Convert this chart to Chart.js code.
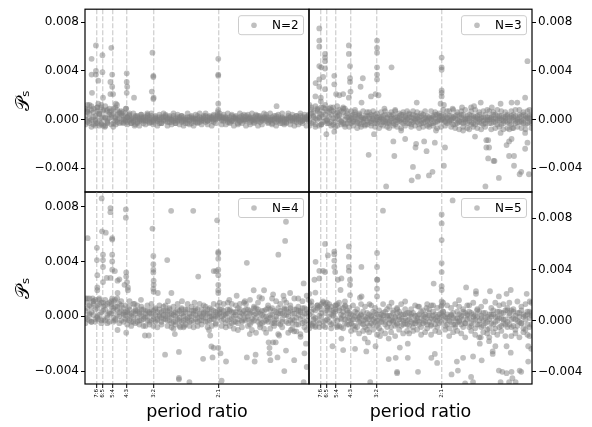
<!DOCTYPE html>
<html>
<head>
<meta charset="utf-8">
<script src="https://cdn.jsdelivr.net/npm/chart.js@4.4.0/dist/chart.umd.min.js"></script>
<style>
  html, body { margin: 0; padding: 0; background: #fff; }
  #wrap { position: relative; width: 592px; height: 427px; overflow: hidden; }
  canvas { position: absolute; left: 0; top: 0; }
</style>
</head>
<body>
<div id="wrap">
  <canvas id="n2" width="592" height="427"></canvas>
  <canvas id="n3" width="592" height="427"></canvas>
  <canvas id="n4" width="592" height="427"></canvas>
  <canvas id="n5" width="592" height="427"></canvas>
</div>
<script>
// resonances marked with dashed lines
const resonanceRatios = [7 / 6, 6 / 5, 5 / 4, 4 / 3, 3 / 2, 2];
const resonanceLabels = ['7:6', '6:5', '5:4', '4:3', '3:2', '2:1'];
const yTicks = [-0.004, 0, 0.004, 0.008];
const xRange = [1.108, 2.99];

// all y values below are in units of 1e-4
const Y_UNIT = 1e-4;

// period ratios along the dense band
const bandRatio = [
  1.110, 1.120, 1.130, 1.140, 1.150, 1.160, 1.170, 1.180, 1.191, 1.201,
  1.212, 1.223, 1.234, 1.245, 1.256, 1.267, 1.278, 1.290, 1.301, 1.313,
  1.325, 1.336, 1.348, 1.360, 1.373, 1.385, 1.397, 1.410, 1.422, 1.435,
  1.448, 1.461, 1.474, 1.487, 1.500, 1.514, 1.527, 1.541, 1.555, 1.569,
  1.583, 1.597, 1.611, 1.626, 1.640, 1.655, 1.670, 1.685, 1.700, 1.715,
  1.730, 1.746, 1.761, 1.777, 1.793, 1.809, 1.825, 1.842, 1.858, 1.875,
  1.891, 1.908, 1.925, 1.943, 1.960, 1.978, 1.995, 2.013, 2.031, 2.049,
  2.068, 2.086, 2.105, 2.124, 2.143, 2.162, 2.182, 2.201, 2.221, 2.241,
  2.261, 2.281, 2.302, 2.322, 2.343, 2.364, 2.385, 2.407, 2.428, 2.450,
  2.472, 2.494, 2.517, 2.539, 2.562, 2.585, 2.608, 2.632, 2.655, 2.679,
  2.703, 2.727, 2.752, 2.777, 2.802, 2.827, 2.852, 2.878, 2.904, 2.930,
  2.956, 2.983
];

// ---------- N=2 ----------
const coreN2a = [
  9, -2, 5, 11, -4, 3, 7, -1, 12, 2,
  -5, 8, 1, 4, -3, 10, 0, 6, -2, 3,
  1, -2, 3, 0, -1, 2, -3, 1, 2, -1,
  0, 3, -2, 1, -1, 2, 0, -3, 1, 2,
  -1, 0, 2, -2, 3, 1, -1, 0, -2, 2,
  1, -3, 0, 2, -1, 1, 3, -2, 0, 1,
  -2, 2, 0, -1, 3, 1, 4, 2, -1, 1,
  2, -2, 0, 3, -1, 1, -3, 2, 0, -1,
  3, 1, -2, 0, 2, -1, 3, -2, 1, 0,
  -1, 2, 0, -3, 1, 3, -1, 0, 2, -2,
  1, 3, -1, 0, 2, -2, 1, 3, -1, 0,
  2, -1
];
const coreN2b = [
  3, 7, -1, 0, 6, -5, 10, 4, -3, 8,
  2, -1, 6, -4, 9, 1, -2, 5, 3, -3,
  -1, 2, 0, -3, 1, 3, -2, 0, -1, 2,
  2, -1, 0, 3, -2, 1, -1, 2, -3, 0,
  3, -2, 1, 0, -1, -3, 2, 1, 3, -1,
  0, 2, -1, -3, 1, 0, -2, 2, 1, -1,
  3, -1, 2, 1, -2, 0, 1, 3, 2, -1,
  0, 1, -2, -1, 2, 0, 1, -1, 3, 2,
  -1, 0, 2, 1, -2, 3, 0, 1, -1, 2,
  2, -2, 1, 0, -1, -2, 2, 1, -3, 1,
  -2, 0, 2, 1, -1, 3, 0, -2, 2, 1,
  0, 3
];
const coreN2c = [
  0, 6, -3, 8, 2, -1, 10, 5, -4, 7,
  1, -3, 9, 2, 5, -1, 4, 1, 7, -2,
  0, 2, -1, 1, -2, 0, 2, -1, 0, 1,
  -1, 1, 2, -2, 0, 1, -1, 0, 2, -1,
  2, 1, -2, 0, 1, -1, 0, 2, -1, 0,
  -1, 0, 2, 1, 0, -2, 1, 0, -1, 2,
  0, -1, 1, 2, 0, 2, 3, 1, 0, 2,
  1, 0, 2, -1, 1, 2, 0, -2, 1, 0,
  0, 2, 1, -1, 0, 1, -1, 2, 0, 1,
  1, 0, -1, 2, 0, 1, 0, -1, 1, 0,
  0, 1, 2, -1, 1, 0, 2, 0, -1, 2,
  1, 0
];
const fringeN2 = [
  -4, 12, 1, -6, 9, 0, -3, 5, 1, -5,
  11, -2, 4, 7, -6, 2, 8, -3, 5, 0,
  5, -4, 4, -3, 5, -4, 3, -5, 4, -3,
  -4, 4, -3, 5, -4, 3, -5, 4, -3, 5,
  4, -5, 3, -4, 5, -3, 4, -4, 3, -5,
  -3, 5, -4, 3, -5, 4, -3, 5, -4, 3,
  5, -4, 3, -5, 4, -3, 6, 5, -4, 4,
  -4, 5, -3, 4, -5, 3, -4, 5, -3, 4,
  -5, 4, -4, 5, -3, 4, -5, 3, -4, 5,
  4, -3, 5, -4, 3, -5, 4, -3, 5, -4,
  -3, 5, -4, 4, -5, 3, -4, 5, -3, 4,
  -5, 4
];
const outN2 = [
  [1.163, 61], [1.141, 50], [1.197, 53], [1.245, 59], [1.494, 55], [1.141, 37], [1.163, 40],
  [1.163, 37], [1.175, 32], [1.197, 39], [1.25, 37], [1.24, 31], [1.25, 27], [1.333, 38],
  [1.333, 31], [1.336, 27], [1.333, 22], [1.5, 35], [1.5, 36], [1.49, 23], [1.5, 17],
  [1.502, 18], [1.143, 22], [1.2, 18], [1.24, 21], [1.255, 21], [1.377, 18], [1.277, 12],
  [1.27, 13], [1.33, 9], [1.328, 9], [1.13, 12], [1.175, 13], [1.12, 8], [2.0, 50],
  [2.0, 37], [2.0, 36], [2.0, 13], [2.0, 8], [2.59, 11], [1.27, -4], [1.21, -6],
  [1.18, -5], [1.38, -5], [1.16, -3], [1.19, 10], [1.22, 7], [1.31, 6], [1.35, 5],
  [1.42, 4], [1.46, 5]
];

// ---------- N=3 ----------
const coreN3a = [
  12, -3, 6, 1, 9, -5, 4, 10, -1, 7,
  2, 8, -4, 5, 11, 0, -2, 6, 3, -3,
  2, -3, 4, 0, -2, 3, -4, 1, 3, -1,
  -2, 4, 1, -3, 2, 0, -4, 3, -1, 2,
  4, -1, -3, 2, 0, 3, -2, 4, -1, 1,
  -3, 2, 4, -1, 1, -4, 3, 0, -2, 3,
  1, -3, 2, 4, -2, 0, 3, 4, -1, 2,
  -2, 3, -4, 1, 4, -1, 2, -3, 0, 3,
  4, -2, 1, -4, 3, 0, -3, 2, 4, -1,
  -3, 1, 4, -2, 0, 3, -4, 2, -1, 4,
  2, -4, 0, 3, -2, 4, -1, -3, 3, 1,
  -2, 4
];
const coreN3b = [
  3, 8, -2, 11, 0, 5, -4, 2, 9, -1,
  6, -2, 10, 1, -5, 4, 7, -3, 0, 5,
  -1, 3, -2, 4, 1, -3, 2, 0, -4, 3,
  3, -1, 0, 4, -3, 2, 1, -2, 4, -3,
  -2, 3, 1, -4, 2, -1, 4, 0, 3, -3,
  2, -4, 1, 3, -2, 0, -3, 4, 2, -1,
  -4, 1, 3, -2, 4, 2, -1, 0, 3, -3,
  3, -1, 2, -4, 0, 3, -2, 4, 1, -3,
  -1, 3, -3, 2, -2, 4, 1, -4, 0, 2,
  2, -3, 0, 4, -4, 1, 3, -1, 2, -2,
  -1, 3, 4, -3, 1, -2, 3, 0, -4, 2,
  3, -3
];
const coreN3c = [
  -1, 5, 2, -4, 7, 1, 10, -2, 4, 0,
  -3, 4, 1, -2, 6, 3, -1, 9, -4, 2,
  0, 1, -1, 2, -3, 4, 0, -2, 1, -4,
  1, -3, 3, -1, 0, -2, 2, 0, -2, 1,
  -3, 1, 4, -1, -2, 1, 0, -3, 2, 0,
  4, -1, -2, 0, 3, 2, -1, -3, 1, 0,
  2, 0, -3, 1, -1, 3, 0, 1, -2, 1,
  -1, 0, 1, 3, -3, -2, 4, 0, -2, 1,
  1, -4, 3, 0, 1, -2, 2, -1, -3, 0,
  0, 2, -2, 1, 3, -1, 0, -3, 1, 3,
  -3, 1, 2, -1, 0, 2, -2, 4, 1, -3,
  1, -1
];
const fringeN3 = [
  -5, 10, 3, -6, 8, 2, -4, 6, 12, -3,
  9, -5, 7, -6, 3, 8, -4, 10, -6, 7,
  -6, 7, -5, 6, -7, 5, -6, 7, -5, 6,
  6, -5, 7, -6, 5, -7, 6, -5, 7, -6,
  -7, 6, -5, 7, -6, 5, -7, 6, -5, 7,
  5, -6, 7, -5, 6, -7, 5, -6, 7, -5,
  -6, 7, -5, 6, -7, 5, -6, 8, -5, 7,
  7, -6, 8, -7, 6, -8, 7, -6, 8, -7,
  -8, 7, -6, 8, -7, 6, -8, 7, -6, 8,
  7, -8, 6, -7, 8, -6, 7, -8, 6, -7,
  -8, 7, -7, 8, -6, 8, -7, 6, -8, 7,
  8, -7
];
const outN3 = [
  [1.16, 75], [1.16, 65], [1.16, 60], [1.19, 54], [1.19, 51], [1.19, 48], [1.19, 42],
  [1.16, 44], [1.17, 43], [1.141, 30], [1.16, 33], [1.18, 35], [1.16, 27], [1.14, 19],
  [1.168, 18], [1.168, 15], [1.19, 25], [1.24, 36], [1.24, 29], [1.25, 21], [1.268, 20],
  [1.29, 21], [1.323, 61], [1.323, 54], [1.33, 44], [1.33, 34], [1.33, 31], [1.333, 23],
  [1.323, 18], [1.408, 34], [1.394, 27], [1.40, 14], [1.46, 19], [1.5, 65], [1.5, 59],
  [1.5, 55], [1.5, 43], [1.5, 37], [1.5, 33], [1.49, 21], [1.51, 20], [1.6, 43],
  [1.626, 8], [1.48, -12], [1.445, -29], [1.613, -18], [1.62, -30], [1.70, -16], [1.562, -55],
  [1.197, -12], [1.24, -10], [1.79, 14], [1.76, -39], [1.75, -50], [1.80, -47], [1.89, -46],
  [1.92, -43], [1.785, -20], [1.78, -23], [1.87, -26], [1.85, -18], [1.94, -19], [2.03, -23],
  [2.02, -38], [2.0, 51], [2.0, 43], [2.0, 41], [2.0, 24], [2.0, 22], [2.0, 19],
  [1.99, 13], [2.02, 12], [2.19, 10], [2.28, 10], [2.31, 11], [2.38, 14], [2.6, 13],
  [2.73, 14], [2.8, 14], [2.90, 18], [2.93, 48], [2.32, -14], [2.44, -17], [2.46, -17],
  [2.44, -23], [2.47, -23], [2.46, -32], [2.52, -34], [2.53, -34], [2.43, -55], [2.58, -48],
  [2.67, -21], [2.70, -18], [2.73, -16], [2.70, -30], [2.76, -30], [2.76, -38], [2.83, -45],
  [2.85, -43], [2.95, -45], [2.9, -24], [2.93, -19], [2.9, -11], [2.6, -11], [2.74, -7],
  [1.3, 9], [1.36, 8], [1.22, 10], [1.55, 9], [2.1, 9], [2.5, 10], [2.2, -9],
  [1.95, -9], [1.67, -9]
];

// ---------- N=4 ----------
const coreN4a = [
  13, -2, 8, 3, 11, -4, 6, 1, 10, 4,
  -3, 9, 2, 7, -1, 12, 5, 0, 8, -4,
  3, -2, 5, 0, -4, 2, 4, -3, 1, 5,
  -1, 4, -4, 2, 0, 5, -3, 1, 3, -2,
  4, -3, 1, -5, 3, 0, -2, 4, -4, 2,
  -2, 5, 0, -3, 4, 1, -4, 2, 5, -1,
  3, -4, 2, 5, -2, 0, 4, 5, -3, 1,
  -5, 2, 5, -1, 3, -4, 6, 0, -3, 4,
  5, -2, -6, 3, 1, 6, -4, 2, -5, 4,
  -3, 6, 1, -5, 4, -2, 6, -6, 2, 5,
  -4, 3, 6, -2, 5, -6, 1, 4, -5, 6,
  2, -6
];
const coreN4b = [
  4, 10, -3, 7, 1, 12, -1, 9, 3, -2,
  8, 1, -4, 11, 4, -2, 7, 3, -3, 6,
  -2, 4, 1, -4, 3, 5, -1, 2, -3, 0,
  4, -3, 2, 5, -2, -4, 3, 0, -1, 4,
  -2, 1, 5, -1, -4, 3, 2, -3, 5, 0,
  3, -1, -4, 4, 2, -2, 5, -3, 0, 3,
  -1, 2, -3, 0, 4, -5, 1, 3, 5, -2,
  2, -3, 4, -5, 0, 3, -2, 5, -4, 1,
  -3, 5, 2, -4, 6, -1, 3, -6, 4, 0,
  5, -4, -1, 6, -3, 3, -5, 2, -2, 6,
  1, -5, 4, 2, -3, 5, -6, 3, 0, -4,
  5, 3
];
const coreN4c = [
  -1, 6, 2, -4, 9, 5, 0, 12, -3, 7,
  5, -1, 10, 2, 6, -3, 1, 9, 4, 2,
  1, 3, -3, 2, -1, 4, -4, 3, 5, -2,
  2, 0, 3, -3, 4, 1, -2, 5, -4, 1,
  0, 4, -3, 2, 1, -4, 5, -1, 2, -3,
  5, -3, 2, 0, -4, 4, -1, 1, -3, 2,
  -4, 5, 0, -2, 1, 3, -1, 2, 0, 4,
  1, 5, -2, 3, -4, 1, -5, 3, 2, -2,
  2, 0, 4, -2, -3, 2, 5, -2, 1, -4,
  0, -2, 5, 1, -5, 0, 2, 4, -4, 1,
  5, 0, -3, -5, 2, -1, 4, -2, 6, 2,
  -3, 0
];
const fringeN4 = [
  -5, 13, 1, -4, 11, -2, 8, 13, -5, 10,
  12, -5, 3, 9, -4, 7, 13, -5, 11, 1,
  8, -6, 7, -7, 9, -5, 8, -6, 7, -7,
  -7, 8, -6, 9, -7, 6, -8, 8, -6, 7,
  8, -7, 6, -8, 7, -6, 9, -7, 6, -8,
  -6, 9, -7, 7, -8, 6, -7, 9, -6, 8,
  7, -8, 6, -7, 9, -6, 8, 10, -7, 9,
  -8, 10, -7, 9, -9, 8, -10, 9, -8, 10,
  9, -7, 12, -10, 7, -12, 10, -8, 13, -9,
  -12, 8, -9, 13, -7, 11, -13, 9, -8, 12,
  10, -12, 8, -9, 13, -11, 7, -13, 11, -8,
  -10, 12
];
const outN4 = [
  [1.193, 86], [1.121, 57], [1.195, 62], [1.215, 61], [1.24, 79], [1.24, 76], [1.328, 78],
  [1.328, 72], [1.494, 64], [1.623, 77], [1.168, 50], [1.168, 41], [1.17, 30], [1.17, 21],
  [1.17, 19], [1.2, 45], [1.2, 41], [1.2, 36], [1.2, 25], [1.25, 57], [1.25, 56],
  [1.25, 45], [1.25, 40], [1.25, 34], [1.22, 28], [1.24, 28], [1.265, 33], [1.28, 26],
  [1.29, 27], [1.25, 13], [1.26, 11], [1.28, 17], [1.33, 32], [1.33, 29], [1.335, 25],
  [1.34, 21], [1.32, 23], [1.34, 19], [1.35, 11], [1.5, 44], [1.5, 38], [1.5, 34],
  [1.5, 32], [1.502, 26], [1.502, 23], [1.5, 20], [1.502, 18], [1.53, 17], [1.595, 41],
  [1.625, 17], [1.703, 11], [1.13, 13], [1.146, 13], [1.175, -2], [1.33, -12], [1.28, -10],
  [1.445, -14], [1.47, -14], [1.58, -28], [1.68, -26], [1.64, -9], [1.65, -13], [1.68, -46],
  [1.69, -8], [1.79, 77], [1.99, 70], [2.0, 47], [2.0, 46], [2.0, 42], [2.0, 34],
  [2.0, 30], [2.0, 23], [2.0, 19], [2.0, 17], [1.96, 33], [1.98, 33], [1.83, 29],
  [2.27, 39], [2.61, 45], [2.69, 55], [2.70, 69], [2.34, 19], [2.45, 19], [2.67, 15],
  [2.92, 24], [2.96, 15], [1.6, 11], [2.17, 15], [1.76, -48], [1.68, -45], [1.87, -31],
  [1.95, -30], [1.94, -22], [1.96, -23], [2.0, -23], [2.02, -27], [2.07, -33], [2.03, -47],
  [2.27, -30], [2.36, -28], [2.35, -33], [2.5, -19], [2.55, -19], [2.58, -19], [2.51, -23],
  [2.51, -27], [2.52, -32], [2.6, -30], [2.68, -40], [2.70, -25], [2.80, -32], [2.93, -27],
  [2.95, -20], [2.96, -37], [2.92, -48], [2.76, -10], [2.8, -11], [1.92, -10], [1.93, -14],
  [1.72, -7], [2.4, 14], [2.55, 16], [2.75, 17], [2.85, 13], [2.3, -13], [2.62, -14],
  [2.88, -15], [1.42, 12], [1.38, 9], [1.8, 10], [2.1, 12], [2.25, 11]
];

// ---------- N=5 ----------
const coreN5a = [
  14, -3, 9, 2, 12, -5, 6, 15, 0, 8,
  3, 11, -2, 7, 13, -4, 5, 10, 1, -3,
  6, -2, 4, 7, -5, 2, 5, -3, 1, 6,
  -4, 3, 7, -1, 5, -6, 2, 6, -3, 4,
  1, -5, 6, 3, -2, 7, -4, 0, 5, -3,
  6, -1, -5, 4, 2, -3, 7, -2, 3, -6,
  4, -3, 7, 1, -5, 5, 3, 7, -4, 2,
  -6, 5, 2, -3, 7, -1, 4, -5, 6, 1,
  7, -4, 3, -6, 8, 0, -5, 6, 2, -7,
  5, -2, 8, -6, 3, 7, -4, 1, 8, -5,
  -3, 8, 2, -7, 6, -1, 8, -6, 4, 7,
  -5, 6
];
const coreN5b = [
  5, 12, -2, 8, 0, 11, 3, -4, 13, 1,
  9, -3, 6, 12, 0, 8, -5, 4, 11, 2,
  -3, 5, 1, -4, 6, 3, -2, 7, -5, 2,
  5, -2, 1, 6, -4, 3, -1, 4, 7, -5,
  -2, 4, 0, -4, 6, 1, 5, -3, 2, 6,
  -4, 3, 6, -2, 0, 5, -5, 4, -1, 2,
  6, -4, 1, 5, 3, -2, 6, 7, 0, -3,
  3, -1, 6, -5, 2, 5, -3, 7, -2, 4,
  -5, 6, 0, 4, -3, 7, 2, -4, 6, -1,
  -6, 3, 5, -1, 7, -5, 2, 6, -3, 8,
  4, -5, 7, 1, -4, 6, -2, 3, -7, 5,
  7, -3
];
const coreN5c = [
  -2, 7, 3, -5, 10, 4, 13, -1, 6, 11,
  -1, 5, 8, 2, -4, 10, 1, 7, -2, 6,
  2, 0, -4, 3, 1, -1, 4, 0, 3, -2,
  1, 4, -3, 2, 0, -2, 5, 1, -1, 3,
  4, 0, -1, 2, -3, 3, 1, 5, -2, 0,
  1, 5, -2, 0, 4, -1, 2, 0, 5, -3,
  -1, 2, 4, -3, 0, 2, -1, 4, 3, 5,
  0, 4, -3, 2, -1, 0, 3, 1, -2, 5,
  2, -2, 5, 1, 3, -3, 4, 0, -2, 3,
  1, 5, -3, 3, 0, 2, 6, -2, 1, -1,
  6, 1, -4, 4, 0, 3, -2, 5, 1, -3,
  2, 4
];
const fringeN5 = [
  -6, 15, 1, -4, 12, -2, 9, 14, -5, 10,
  13, -6, 4, 9, -5, 14, 2, -6, 12, 8,
  10, -8, 12, -7, 9, -10, 13, -8, 11, -7,
  -9, 12, -7, 10, -11, 8, -8, 13, -10, 9,
  11, -9, 8, -12, 10, -7, 13, -10, 9, -8,
  -10, 9, -8, 12, -7, 11, -11, 8, -9, 13,
  9, -11, 12, -8, 10, -9, 11, 14, -7, 12,
  -12, 10, -9, 13, -8, 11, -10, 9, -13, 12,
  12, -8, 14, -11, 9, -13, 11, -9, 15, -10,
  -13, 10, -9, 14, -11, 12, -8, 13, -12, 10,
  14, -12, 9, -10, 15, -13, 11, -9, 13, -11,
  -12, 14
];
const outN5 = [
  [1.54, 86], [1.19, 60], [1.141, 46], [1.205, 51], [1.16, 39], [1.18, 39], [1.19, 38],
  [1.16, 33], [1.135, 32], [1.24, 54], [1.24, 52], [1.24, 47], [1.24, 42], [1.245, 38],
  [1.28, 33], [1.26, 32], [1.275, 24], [1.323, 58], [1.323, 50], [1.323, 42], [1.323, 39],
  [1.33, 32], [1.33, 28], [1.33, 20], [1.399, 42], [1.5, 53], [1.5, 42], [1.5, 32],
  [1.502, 32], [1.5, 25], [1.5, 19], [1.4, 19], [1.39, 18], [1.11, 21], [1.14, 22],
  [1.125, -4], [1.23, -20], [1.29, -23], [1.28, -14], [1.36, -22], [1.42, -14], [1.44, -17],
  [1.43, -24], [1.49, -20], [1.455, -48], [1.58, -30], [1.63, -29], [1.64, -40], [1.72, -29],
  [1.52, -12], [1.58, -14], [1.64, 9], [1.7, 15], [2.1, 94], [2.0, 83], [2.0, 76],
  [2.0, 63], [2.0, 45], [2.0, 38], [2.0, 27], [2.0, 24], [2.0, 15], [2.0, 12],
  [1.93, 29], [2.23, 26], [2.33, 23], [2.33, 21], [2.48, 23], [2.58, 19], [2.67, 21],
  [2.72, 24], [2.92, 21], [2.96, 15], [1.87, 10], [1.91, 12], [2.16, 16], [1.64, -41],
  [1.80, -40], [1.94, -26], [1.96, -33], [1.91, -29], [2.09, -42], [2.22, -49], [2.14, -32],
  [2.15, -39], [2.2, -29], [2.3, -28], [2.39, -31], [2.28, -44], [2.3, -48], [2.51, -24],
  [2.51, -26], [2.58, -39], [2.62, -40], [2.67, -41], [2.73, -40], [2.6, -48], [2.7, -48],
  [2.78, -48], [2.74, -45], [2.83, -39], [2.85, -40], [2.94, -32], [2.94, -20], [2.98, -22],
  [2.67, -20], [2.72, -25], [1.66, -21], [1.72, -18], [2.37, -18], [2.38, -13], [2.47, -16],
  [2.54, -20], [1.2, 14], [1.25, 12], [1.3, 15], [1.45, 13], [1.6, 14], [1.8, 11]
];

function panelPoints(layers, outliers) {
  const pts = [];
  layers.forEach(layer => layer.forEach((v, i) => pts.push({ x: bandRatio[i], y: v * Y_UNIT })));
  outliers.forEach(([r, v]) => pts.push({ x: r, y: v * Y_UNIT }));
  return pts;
}

const panels = [
  { id: 'n2', label: 'N=2', left: true, bottom: false, yRange: [-0.00596, 0.00908],
    pts: panelPoints([coreN2a, coreN2b, coreN2c, fringeN2], outN2) },
  { id: 'n3', label: 'N=3', left: false, bottom: false, yRange: [-0.00596, 0.00908],
    pts: panelPoints([coreN3a, coreN3b, coreN3c, fringeN3], outN3) },
  { id: 'n4', label: 'N=4', left: true, bottom: true, yRange: [-0.00494, 0.00907],
    pts: panelPoints([coreN4a, coreN4b, coreN4c, fringeN4], outN4) },
  { id: 'n5', label: 'N=5', left: false, bottom: true, yRange: [-0.00495, 0.01006],
    pts: panelPoints([coreN5a, coreN5b, coreN5c, fringeN5], outN5) }
];

const POINT_COLOR = 'rgba(128,128,128,0.5)';
const FONT = 'DejaVu Sans';

// black box around each panel
const framePlugin = {
  id: 'frame',
  afterDraw(chart) {
    const { ctx, chartArea: a } = chart;
    ctx.save();
    ctx.strokeStyle = '#000';
    ctx.lineWidth = 1.2;
    ctx.strokeRect(a.left, a.top, a.right - a.left, a.bottom - a.top);
    ctx.restore();
  }
};

// matplotlib-like legend in upper right corner
const cornerLegend = {
  id: 'cornerLegend',
  afterDatasetsDraw(chart) {
    const { ctx, chartArea: a } = chart;
    const ds = chart.data.datasets[0];
    const w = 65, h = 19;
    const x = a.right - 6 - w, y = a.top + 6;
    ctx.save();
    ctx.beginPath();
    ctx.roundRect(x + 0.5, y + 0.5, w, h, 2.5);
    ctx.fillStyle = 'rgba(255,255,255,0.8)';
    ctx.fill();
    ctx.strokeStyle = '#cccccc';
    ctx.lineWidth = 1;
    ctx.stroke();
    ctx.beginPath();
    ctx.arc(x + 16, y + h / 2 + 0.5, 2.8, 0, Math.PI * 2);
    ctx.fillStyle = POINT_COLOR;
    ctx.fill();
    ctx.fillStyle = '#000';
    ctx.font = '12px "' + FONT + '"';
    ctx.textBaseline = 'middle';
    ctx.textAlign = 'left';
    ctx.fillText(ds.label, x + 34, y + h / 2 + 1);
    ctx.restore();
  }
};

const fmt = v => (Math.abs(v) < 1e-12 ? '0.000' : v.toFixed(3).replace('-', '\u2212'));

panels.forEach(p => {
  const top = p.bottom ? 192 : 1;
  new Chart(document.getElementById(p.id), {
    type: 'scatter',
    data: {
      datasets: [{
        label: p.label,
        data: p.pts,
        pointRadius: 2.9,
        pointBackgroundColor: POINT_COLOR,
        pointBorderWidth: 0,
        showLine: false
      }]
    },
    options: {
      responsive: false,
      animation: false,
      events: [],
      devicePixelRatio: 1,
      layout: {
        padding: {
          left: p.left ? 0 : 309,
          right: p.left ? 283 : 0,
          top: top,
          bottom: p.bottom ? 0 : 235
        }
      },
      plugins: { legend: { display: false }, tooltip: { enabled: false } },
      scales: {
        x: {
          type: 'logarithmic',
          min: xRange[0],
          max: xRange[1],
          afterBuildTicks: s => { s.ticks = resonanceRatios.map(v => ({ value: v })); },
          afterFit: s => { s.height = p.bottom ? 43 : 0; },
          grid: {
            color: '#d4d4d4',
            lineWidth: 1.4,
            drawTicks: p.bottom,
            tickLength: 4,
            tickColor: '#000',
            tickWidth: 1
          },
          border: { display: false, dash: [5, 2] },
          ticks: {
            display: p.bottom,
            autoSkip: false,
            minRotation: 90,
            maxRotation: 90,
            padding: 1,
            color: '#000',
            font: { family: FONT, size: 5.5 },
            callback: (v, i) => resonanceLabels[i]
          },
          title: {
            display: p.bottom,
            text: 'period ratio',
            color: '#000',
            font: { family: FONT, size: 17.5, lineHeight: 1.2 },
            padding: { top: 0, bottom: 4 }
          }
        },
        y: {
          position: p.left ? 'left' : 'right',
          min: p.yRange[0],
          max: p.yRange[1],
          afterBuildTicks: s => { s.ticks = yTicks.map(v => ({ value: v })); },
          afterFit: s => { s.width = p.left ? 85 : 60; },
          grid: {
            drawOnChartArea: false,
            drawTicks: true,
            tickLength: 4,
            tickColor: '#000',
            tickWidth: 1
          },
          border: { display: false },
          ticks: {
            padding: 2,
            color: '#000',
            font: { family: FONT, size: 12 },
            callback: v => fmt(v)
          },
          title: {
            display: p.left,
            text: '\uD835\uDCAB\u209B',
            color: '#000',
            font: { family: FONT, size: 19, lineHeight: 1.0 },
            padding: { top: 15, bottom: 0 }
          }
        }
      }
    },
    plugins: [cornerLegend, framePlugin]
  });
});
</script>
</body>
</html>
